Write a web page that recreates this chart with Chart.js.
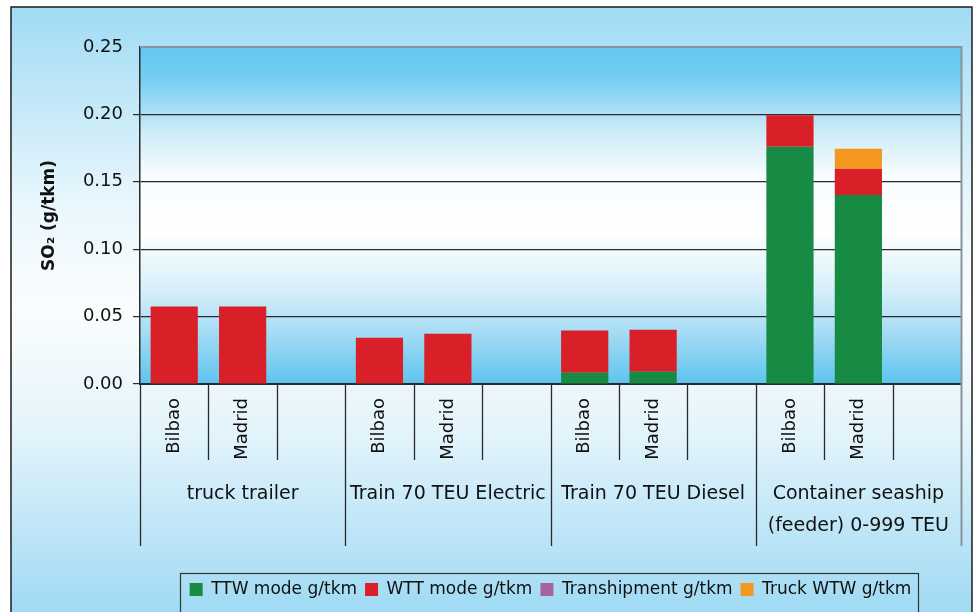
<!DOCTYPE html>
<html><head><meta charset="utf-8">
<script src="https://cdn.jsdelivr.net/npm/chart.js@4.4.1/dist/chart.umd.min.js"></script>
<style>html,body{margin:0;padding:0;background:#fff}#wrap{width:978px;height:612px;position:relative}</style>
</head><body><div id="wrap"><canvas id="c" width="978" height="612"></canvas></div>
<script>
// ---- data ----
const categories = ['Bilbao','Madrid','', 'Bilbao','Madrid','', 'Bilbao','Madrid','', 'Bilbao','Madrid',''];
const groupLabels = [['truck trailer'], ['Train 70 TEU Electric'], ['Train 70 TEU Diesel'], ['Container seaship','(feeder) 0-999 TEU']];
const ttwMode      = [0, 0, null, 0, 0, null, 0.0084, 0.0090, null, 0.1760, 0.1403, null];
const wttMode      = [0.0575, 0.0575, null, 0.0343, 0.0373, null, 0.0312, 0.0313, null, 0.0233, 0.0194, null];
const transhipment = [0, 0, null, 0, 0, null, 0, 0, null, 0, 0, null];
const truckWtw     = [0, 0, null, 0, 0, null, 0, 0, null, 0, 0.0149, null];
const yTickLabels  = ['0.00','0.05','0.10','0.15','0.20','0.25'];
const seriesNames  = ['TTW mode g/tkm','WTT mode g/tkm','Transhipment g/tkm','Truck WTW g/tkm'];
const seriesColors = ['#178a43','#d92028','#a5649c','#f4971f'];

const FONT = 'DejaVu Sans';

const bgPlugin = {
  id: 'bg',
  beforeDraw(chart) {
    const ctx = chart.ctx, a = chart.chartArea;
    ctx.save();
    ctx.fillStyle = '#ffffff';
    ctx.fillRect(0, 0, chart.width, chart.height);
    let g = ctx.createLinearGradient(0, 7, 0, 612);
    g.addColorStop(0, '#9fdbf5');
    g.addColorStop(0.33, '#eaf7fc');
    g.addColorStop(0.5, '#fbfdfe');
    g.addColorStop(0.7, '#e4f4fb');
    g.addColorStop(1, '#9fdaf4');
    ctx.fillStyle = g;
    ctx.fillRect(11, 7, 961, 610);
    ctx.strokeStyle = '#1e1e1e';
    ctx.lineWidth = 1.5;
    ctx.strokeRect(11, 7, 961, 610);
    g = ctx.createLinearGradient(0, a.top, 0, a.bottom);
    g.addColorStop(0, '#62c7f0');
    g.addColorStop(0.1, '#78cef1');
    g.addColorStop(0.25, '#cdebf8');
    g.addColorStop(0.38, '#f7fcfe');
    g.addColorStop(0.55, '#ffffff');
    g.addColorStop(0.72, '#d6effa');
    g.addColorStop(0.85, '#a4dbf4');
    g.addColorStop(1, '#5dc4ef');
    ctx.fillStyle = g;
    ctx.fillRect(a.left, a.top, a.right - a.left, a.bottom - a.top);
    ctx.restore();
  },
  afterDraw(chart) {
    const ctx = chart.ctx, a = chart.chartArea, xs = chart.scales.x;
    ctx.save();
    const n = categories.length;
    const slot = (xs.getPixelForValue(1) - xs.getPixelForValue(0));
    const bottomShort = a.bottom + 76, bottomLong = a.bottom + 162;
    for (let i = 0; i <= n; i++) {
      const x = Math.round(xs.getPixelForValue(0) - slot / 2 + i * slot) + 0.5;
      const long = i % 3 === 0;
      ctx.beginPath();
      ctx.strokeStyle = i === n ? '#8a9399' : '#2a2a2a';
      ctx.lineWidth = i === n ? 2 : 1.3;
      ctx.moveTo(x, a.bottom);
      ctx.lineTo(x, long ? bottomLong : bottomShort);
      ctx.stroke();
    }
    ctx.beginPath();
    ctx.strokeStyle = '#8a9399';
    ctx.lineWidth = 2;
    ctx.moveTo(a.left, a.top);
    ctx.lineTo(a.right + 0.5, a.top);
    ctx.lineTo(a.right + 0.5, a.bottom);
    ctx.stroke();
    ctx.fillStyle = '#111';
    ctx.font = '19px "' + FONT + '"';
    ctx.textAlign = 'center';
    ctx.textBaseline = 'middle';
    groupLabels.forEach((lines, gi) => {
      const cx = xs.getPixelForValue(gi * 3 + 1);
      lines.forEach((t, li) => ctx.fillText(t, cx, a.bottom + 110 + li * 32));
    });
    const lg = chart.legend;
    if (lg && lg.legendHitBoxes && lg.legendHitBoxes.length) {
      const hb = lg.legendHitBoxes;
      const l = hb[0].left - 10, r = hb[hb.length - 1].left + hb[hb.length - 1].width + 6;
      ctx.strokeStyle = '#333';
      ctx.lineWidth = 1.2;
      ctx.strokeRect(Math.round(l) + 0.5, lg.top + 0.5, Math.round(r - l), 60);
    }
    ctx.restore();
  }
};

const datasets = seriesNames.map((name, i) => ({
  label: name,
  data: [ttwMode, wttMode, transhipment, truckWtw][i],
  backgroundColor: seriesColors[i],
  borderWidth: 0,
  barPercentage: 0.69,
  categoryPercentage: 1
}));

Chart.defaults.font.family = FONT;
Chart.defaults.color = '#111';

new Chart(document.getElementById('c'), {
  type: 'bar',
  data: { labels: categories, datasets },
  plugins: [bgPlugin],
  options: {
    responsive: false,
    animation: false,
    layout: { padding: { top: 47, left: 11, right: 17, bottom: 4 } },
    plugins: {
      tooltip: { enabled: false },
      legend: {
        position: 'bottom',
        fullSize: false,
        labels: { boxWidth: 13, boxHeight: 13, padding: 8, color: '#111', font: { size: 17 } }
      }
    },
    scales: {
      x: {
        stacked: true,
        offset: true,
        grid: { display: false, drawTicks: false },
        border: { display: true, color: '#2a2a2a', width: 2 },
        ticks: { autoSkip: false, minRotation: 90, maxRotation: 90, padding: 14, color: '#111', font: { size: 18 } },
        afterFit(s) { s.height = 189; }
      },
      y: {
        stacked: true,
        min: 0, max: 0.25,
        grid: {
          color: c => (c.tick && c.tick.value >= 0.249) ? 'rgba(0,0,0,0)' : '#2a2a2a',
          lineWidth: 1.2,
          tickLength: 7
        },
        border: { display: true, color: '#2a2a2a', width: 1.5 },
        ticks: {
          stepSize: 0.05, padding: 10, color: '#111', font: { size: 18 },
          callback: (v, i) => yTickLabels[i]
        },
        title: { display: true, text: 'SO₂ (g/tkm)', color: '#111', font: { size: 17, weight: 'bold' }, padding: { top: 28, bottom: 0 } },
        afterFit(s) { s.width = 129; }
      }
    }
  }
});
</script></body></html>
